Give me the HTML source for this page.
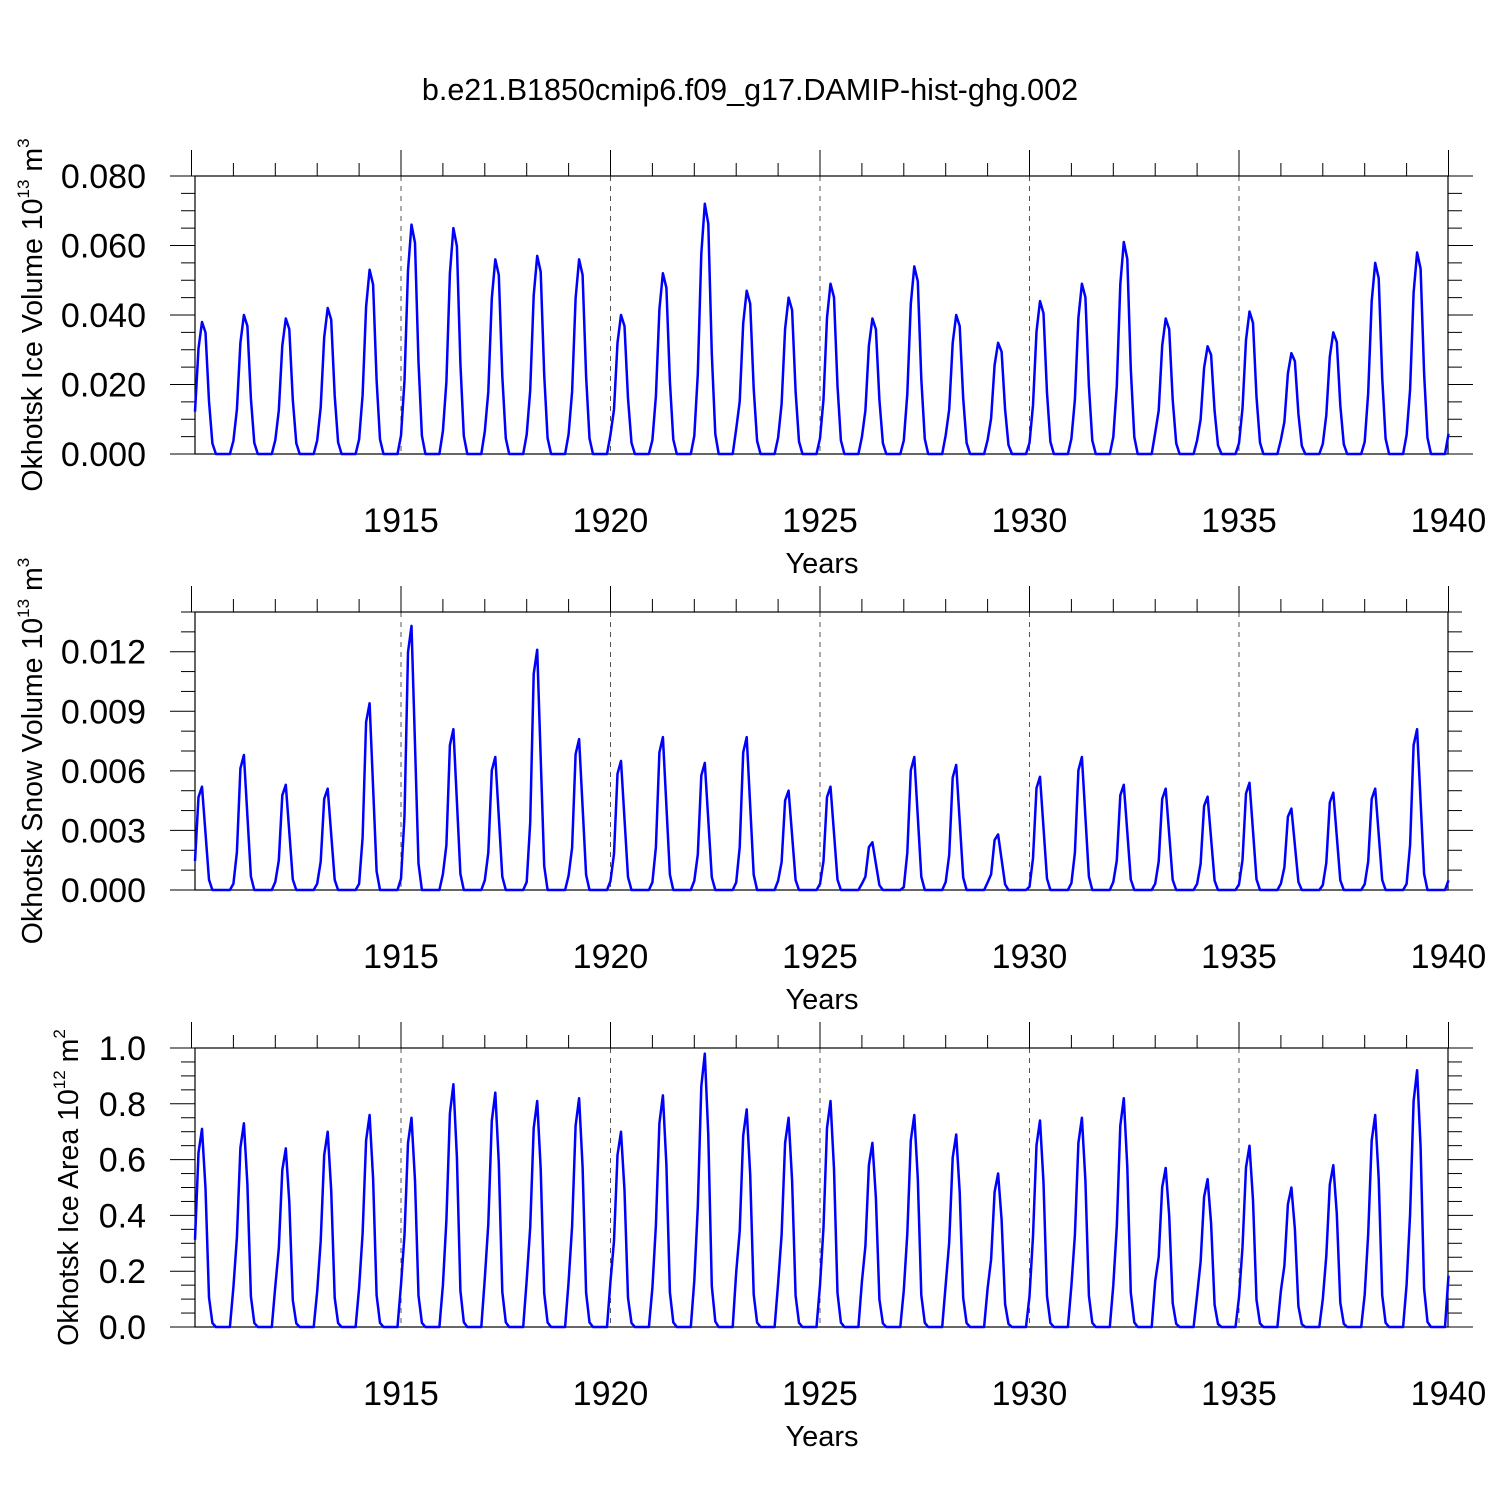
<!DOCTYPE html>
<html><head><meta charset="utf-8"><style>
html,body{margin:0;padding:0;background:#fff;}
svg{display:block;font-family:"Liberation Sans",sans-serif;}
</style></head><body>
<svg id="chart" width="1500" height="1500" viewBox="0 0 1500 1500" xmlns="http://www.w3.org/2000/svg">
<text x="750" y="100" font-size="30.5" text-anchor="middle">b.e21.B1850cmip6.f09_g17.DAMIP-hist-ghg.002</text>
</svg>
<script>
// ---- data (yearly peak values, 1910..1939) ----
const years = [1910,1911,1912,1913,1914,1915,1916,1917,1918,1919,1920,1921,1922,1923,1924,1925,1926,1927,1928,1929,1930,1931,1932,1933,1934,1935,1936,1937,1938,1939];
const icePeaks = [0.038,0.040,0.039,0.042,0.053,0.066,0.065,0.056,0.057,0.056,0.040,0.052,0.072,0.047,0.045,0.049,0.039,0.054,0.040,0.032,0.044,0.049,0.061,0.039,0.031,0.041,0.029,0.035,0.055,0.058];
const snowPeaks = [0.0052,0.0068,0.0053,0.0051,0.0094,0.0133,0.0081,0.0067,0.0121,0.0076,0.0065,0.0077,0.0064,0.0077,0.0050,0.0052,0.0024,0.0067,0.0063,0.0028,0.0057,0.0067,0.0053,0.0051,0.0047,0.0054,0.0041,0.0049,0.0051,0.0081];
const areaPeaks = [0.71,0.73,0.64,0.70,0.76,0.75,0.87,0.84,0.81,0.82,0.70,0.83,0.98,0.78,0.75,0.81,0.66,0.76,0.69,0.55,0.74,0.75,0.82,0.57,0.53,0.65,0.50,0.58,0.76,0.92];
// seasonal shape (fraction of annual peak, Jan..Dec)
const iceSeason  = [0.32,0.80,1.00,0.92,0.40,0.08,0.0,0.0,0.0,0.0,0.0,0.10];
const snowSeason = [0.28,0.90,1.00,0.55,0.10,0.0,0.0,0.0,0.0,0.0,0.0,0.06];
const areaSeason = [0.44,0.88,1.00,0.70,0.15,0.02,0.0,0.0,0.0,0.0,0.0,0.20];
const xTicks = [1915,1920,1925,1930,1935,1940];
const iceTicks = ["0.000","0.020","0.040","0.060","0.080"];
const snowTicks = ["0.000","0.003","0.006","0.009","0.012"];
const areaTicks = ["0.0","0.2","0.4","0.6","0.8","1.0"];

const svg = document.getElementById('chart');
const NS = 'http://www.w3.org/2000/svg';
function mk(tag, attrs){const e=document.createElementNS(NS,tag);for(const k in attrs)e.setAttribute(k,attrs[k]);svg.appendChild(e);return e;}
const X0=191.5, PXY=41.9, L=195, R=1448;
const xs = t => X0 + (t-1910)*PXY;

function panel(cfg){
  const {top,bot,ymax,peaks,season,ticks,tickStep,minor,title,sup,unit,name}=cfg;
  const ys = v => bot - v/ymax*(bot-top);
  xTicks.slice(0,5).forEach(t=>{
    const g=mk('line',{x1:xs(t),x2:xs(t),y1:top,y2:bot,stroke:'#555','stroke-width':1,'stroke-dasharray':'5,5'});
    
    
  });
  const f=mk('rect',{x:L,y:top,width:R-L,height:bot-top,fill:'none',stroke:'#000','stroke-width':1.2});
  
  
  for(let v=0; v<=ymax+1e-9; v+=minor){
    const y=ys(v);
    const isMaj=Math.abs(v/tickStep-Math.round(v/tickStep))<1e-6;
    const len=isMaj?25:14;
    mk('line',{x1:L-len,x2:L,y1:y,y2:y,stroke:'#000','stroke-width':1});
    mk('line',{x1:R,x2:R+len,y1:y,y2:y,stroke:'#000','stroke-width':1});
  }
  ticks.forEach((lab,i)=>{
    const tx=mk('text',{x:146,y:ys(i*tickStep)+12,'font-size':34,'text-anchor':'end'});
    tx.textContent=lab;
    
    
  });
  for(let yr=1910; yr<=1940; yr++){
    const isMaj=yr%5===0;
    mk('line',{x1:xs(yr),x2:xs(yr),y1:top-(isMaj?26:13),y2:top,stroke:'#000','stroke-width':1});
  }
  xTicks.forEach(t=>{
    const tx=mk('text',{x:xs(t),y:bot+78,'font-size':34,'text-anchor':'middle'});
    tx.textContent=t;
    
    
  });
  const xt=mk('text',{x:822,y:bot+119,'font-size':29,'text-anchor':'middle'});
  xt.textContent='Years';
  
  
  const yt=mk('text',{transform:`translate(${cfg.titleX},${(top+bot)/2}) rotate(-90)`,'font-size':28.5,'text-anchor':'middle'});
  yt.innerHTML=`${title} 10<tspan font-size="17" dy="-13">${sup}</tspan><tspan dy="13"> m</tspan><tspan font-size="17" dy="-13">${unit}</tspan>`;
  
  
  const pts=[];
  years.forEach((yr,i)=>{
    season.forEach((s,m)=>{pts.push(xs(yr+(m+1)/12).toFixed(1)+','+ys(peaks[i]*s).toFixed(1));});
  });
  const p=mk('polyline',{points:pts.join(' '),fill:'none',stroke:'#0000ff','stroke-width':2.5,'stroke-linejoin':'round'});
  
  
}
panel({name:'ice-volume',top:176,bot:454,ymax:0.08,peaks:icePeaks,season:iceSeason,ticks:iceTicks,tickStep:0.02,minor:0.005,title:'Okhotsk Ice Volume',sup:'13',unit:'3',titleX:42});
panel({name:'snow-volume',top:612,bot:890,ymax:0.014,peaks:snowPeaks,season:snowSeason,ticks:snowTicks,tickStep:0.003,minor:0.001,title:'Okhotsk Snow Volume',sup:'13',unit:'3',titleX:42});
panel({name:'ice-area',top:1048,bot:1327,ymax:1.0,peaks:areaPeaks,season:areaSeason,ticks:areaTicks,tickStep:0.2,minor:0.05,title:'Okhotsk Ice Area',sup:'12',unit:'2',titleX:78});
</script>
</body></html>
